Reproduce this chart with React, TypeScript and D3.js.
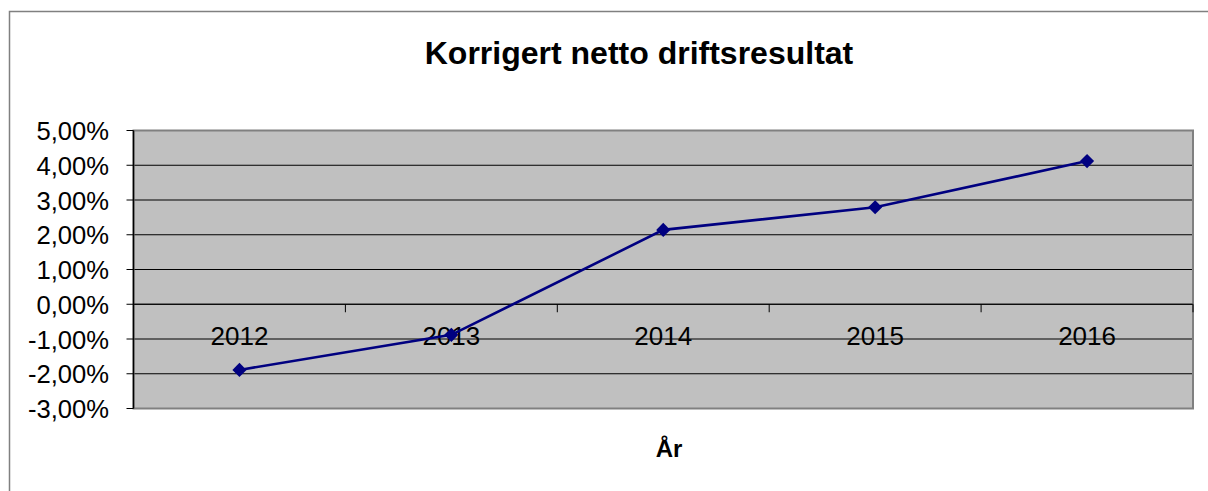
import React from "react";
import * as d3 from "d3";

const categories = ["2012", "2013", "2014", "2015", "2016"];
const values = [-1.89, -0.88, 2.14, 2.79, 4.12];
const yTicks = [-3, -2, -1, 0, 1, 2, 3, 4, 5];
const title = "Korrigert netto driftsresultat";
const xTitle = "År";

export default function App() {
  const W = 1208, H = 491;
  const left = 133.5, right = 1193, top = 130.5, bottom = 408.5;
  const x = d3.scaleBand<string>().domain(categories).range([left, right]).paddingInner(0).paddingOuter(0);
  const y = d3.scaleLinear().domain([-3, 5]).range([bottom, top]);
  const cx = (c: string) => (x(c) as number) + x.bandwidth() / 2;
  const line = d3.line<number>().x((_, i) => cx(categories[i])).y((v) => y(v));
  const diamond = d3.symbol().type(d3.symbolSquare).size(100)();
  const fmt = (v: number) => v.toFixed(2).replace(".", ",") + "%";
  const font = "'Liberation Sans', Arial, sans-serif";
  const boundaries = categories.map((c) => x(c) as number).concat([right]);
  return (
    <svg width={W} height={H} style={{ position: "absolute", left: 0, top: 0 }} fontFamily={font}>
      <rect x={0} y={0} width={W} height={H} fill="#fff" />
      <rect x={9.5} y={11.5} width={W + 10} height={H + 10} fill="#fff" stroke="#808080" strokeWidth={1.5} />
      <text x={639} y={64} textAnchor="middle" fontSize={32} fontWeight="bold" fill="#000">{title}</text>
      <rect x={left} y={top} width={right - left} height={bottom - top} fill="#C0C0C0" />
      {yTicks.filter((t) => t !== -3 && t !== 5).map((t) => (
        <line key={"g" + t} x1={left} x2={right} y1={y(t)} y2={y(t)} stroke="#000" strokeWidth={1} />
      ))}
      <rect x={left} y={top} width={right - left} height={bottom - top} fill="none" stroke="#808080" strokeWidth={2} />
      <line x1={left} x2={left} y1={top} y2={bottom} stroke="#000" strokeWidth={1.5} />
      {yTicks.map((t) => (
        <g key={"t" + t}>
          <line x1={left - 7} x2={left} y1={y(t)} y2={y(t)} stroke="#000" strokeWidth={1} />
          <text x={109} y={y(t) + 9.5} textAnchor="end" fontSize={25.6} fill="#000">{fmt(t)}</text>
        </g>
      ))}
      <line x1={left} x2={right} y1={y(0)} y2={y(0)} stroke="#000" strokeWidth={1} />
      {boundaries.map((b, i) => (
        <line key={"xt" + i} x1={b} x2={b} y1={y(0)} y2={y(0) + 8} stroke="#000" strokeWidth={1} />
      ))}
      {categories.map((c) => (
        <text key={"c" + c} x={cx(c)} y={345} textAnchor="middle" fontSize={26} fill="#000">{c}</text>
      ))}
      <path d={line(values) || ""} fill="none" stroke="#000080" strokeWidth={2.6} />
      {values.map((v, i) => (
        <path key={"m" + i} d={diamond || ""} transform={`translate(${cx(categories[i])},${y(v)}) rotate(45)`} fill="#000080" />
      ))}
      <text x={669} y={457} textAnchor="middle" fontSize={24} fontWeight="bold" fill="#000">{xTitle}</text>
    </svg>
  );
}
